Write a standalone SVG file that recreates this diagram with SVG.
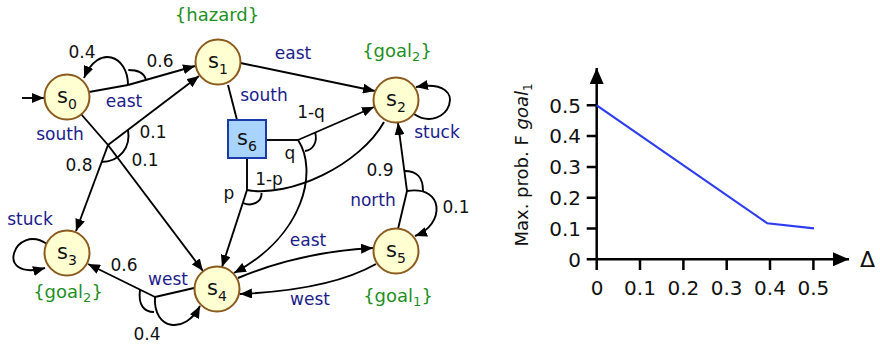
<svg xmlns="http://www.w3.org/2000/svg" width="880" height="347" viewBox="0 0 880 347">
<style>
text{font-family:"DejaVu Sans","Liberation Sans",sans-serif;fill:#111}
.n circle{fill:#ffffd2;stroke:#8b5a1e;stroke-width:2}
.sq{fill:#a8d4ff;stroke:#1a3aa5;stroke-width:2}
.nl{font-size:21px;text-anchor:middle}
.e{fill:none;stroke:#000;stroke-width:1.9}
.ar{marker-end:url(#ah)}
.lb{font-size:17px;text-anchor:middle}
.act{fill:#1c1c8c}
.ap{fill:#1f8f1f;font-size:18px;text-anchor:middle}
.ax{fill:none;stroke:#000;stroke-width:2.5}
.tk{font-size:20px}
</style>
<defs>
<marker id="ah" viewBox="0 0 12 10" refX="12" refY="5" markerWidth="12" markerHeight="10" markerUnits="userSpaceOnUse" orient="auto"><path d="M0,0 L12,5 L0,10 z" fill="#000"/></marker>
<marker id="cah" viewBox="0 0 16 14" refX="16" refY="7" markerWidth="16" markerHeight="14" markerUnits="userSpaceOnUse" orient="auto"><path d="M0,0 L16,7 L0,14 z" fill="#000"/></marker>
</defs>

<g id="connectors">
<path class="e ar" d="M22,98 L44,98"/>
<!-- s0 east -->
<path class="e" d="M89,92 L128,85"/>
<path class="e ar" d="M128,85 L195,66"/>
<path class="e ar" d="M128,85 C128,55 98,44 84,78"/>
<path class="e" d="M128.3,70 Q143,70 145.7,79"/>
<!-- s0 south -->
<path class="e" d="M81,114 L108,145"/>
<path class="e ar" d="M108,145 L199,76"/>
<path class="e ar" d="M108,145 L76,231"/>
<path class="e ar" d="M108,145 L203,271"/>
<path class="e" d="M128,130 C131,147 120,162 101,162"/>
<!-- s1 -->
<path class="e ar" d="M240.5,63 L375,91"/>
<path class="e" d="M228,85 L237,120"/>
<!-- s6 -->
<path class="e" d="M266,140 L298,140"/>
<path class="e ar" d="M298,140 L374,107"/>
<path class="e ar" d="M298,140 C318,170 305,235 234,273"/>
<path class="e" d="M315,132 C318,142 313,150 305,151"/>
<path class="e" d="M247,158 L247,190"/>
<path class="e ar" d="M247,190 L222,267"/>
<path class="e" d="M247,190 C290,198 360,165 384,122"/>
<path class="e" d="M261.5,193 C262,202 252,207 243,203"/>
<!-- s2 stuck -->
<path class="e ar" d="M414,114 C447,136 474,77 416,87"/>
<!-- s3 stuck -->
<path class="e ar" d="M47,244 C15,222 -8,282 45,268"/>
<!-- s5 north -->
<path class="e" d="M398,229 L407,191"/>
<path class="e ar" d="M407,191 L398,123"/>
<path class="e ar" d="M407,191 C445,185 445,225 415,236"/>
<path class="e" d="M404.5,171 C418,171 423,178 423,191"/>
<!-- s4 west -->
<path class="e" d="M194,288 L155,297"/>
<path class="e ar" d="M155,297 L88,264"/>
<path class="e ar" d="M155,297 C153,330 185,335 200,306"/>
<path class="e" d="M140,290 C138,305 144,312 154,312"/>
<!-- s4 east / s5 west -->
<path class="e ar" d="M238,278 Q300,252 373,248"/>
<path class="e ar" d="M376,264 Q330,290 240,294"/>
</g>

<g id="s0" class="n"><circle cx="67" cy="97" r="22.5"/><text class="nl" x="67" y="103">s<tspan font-size="14" dy="6">0</tspan></text></g>
<g id="s1" class="n"><circle cx="218" cy="62" r="22.5"/><text class="nl" x="218" y="68">s<tspan font-size="14" dy="6">1</tspan></text></g>
<g id="s2" class="n"><circle cx="396" cy="100" r="22.5"/><text class="nl" x="396" y="106">s<tspan font-size="14" dy="6">2</tspan></text></g>
<g id="s3" class="n"><circle cx="67" cy="253" r="22.5"/><text class="nl" x="67" y="259">s<tspan font-size="14" dy="6">3</tspan></text></g>
<g id="s4" class="n"><circle cx="217" cy="289" r="22.5"/><text class="nl" x="217" y="295">s<tspan font-size="14" dy="6">4</tspan></text></g>
<g id="s5" class="n"><circle cx="396" cy="251" r="22.5"/><text class="nl" x="396" y="257">s<tspan font-size="14" dy="6">5</tspan></text></g>
<g id="s6"><rect class="sq" x="228" y="120" width="38" height="38"/><text class="nl" x="247" y="145">s<tspan font-size="14" dy="6">6</tspan></text></g>

<g id="labels">
<text class="ap" x="217" y="21">{hazard}</text>
<text class="ap" x="397" y="57">{goal<tspan font-size="13" dy="4">2</tspan><tspan dy="-4">}</tspan></text>
<text class="ap" x="68" y="298">{goal<tspan font-size="13" dy="4">2</tspan><tspan dy="-4">}</tspan></text>
<text class="ap" x="398" y="302">{goal<tspan font-size="13" dy="4">1</tspan><tspan dy="-4">}</tspan></text>

<text class="lb" x="82" y="58">0.4</text>
<text class="lb" x="160" y="67">0.6</text>
<text class="lb act" x="124" y="107">east</text>
<text class="lb act" x="60" y="140">south</text>
<text class="lb" x="153" y="138">0.1</text>
<text class="lb" x="145" y="166">0.1</text>
<text class="lb" x="79" y="171">0.8</text>
<text class="lb act" x="293" y="59">east</text>
<text class="lb act" x="264" y="101">south</text>
<text class="lb" x="311" y="118">1-q</text>
<text class="lb" x="290" y="159">q</text>
<text class="lb" x="269" y="185">1-p</text>
<text class="lb" x="229" y="199">p</text>
<text class="lb act" x="437" y="138">stuck</text>
<text class="lb" x="380" y="176">0.9</text>
<text class="lb act" x="373" y="206">north</text>
<text class="lb" x="456" y="213">0.1</text>
<text class="lb act" x="308" y="246">east</text>
<text class="lb act" x="310" y="305">west</text>
<text class="lb act" x="168" y="285">west</text>
<text class="lb" x="124" y="271">0.6</text>
<text class="lb" x="147" y="340">0.4</text>
<text class="lb act" x="30" y="225">stuck</text>
</g>

<g id="chart">
<path class="ax" d="M596.7,270 L596.7,68" marker-end="url(#cah)"/>
<path class="ax" d="M586.7,259.3 L849,259.3" marker-end="url(#cah)"/>
<path class="ax" d="M586.7,228.5 H596.7 M586.7,197.7 H596.7 M586.7,166.9 H596.7 M586.7,136.1 H596.7 M586.7,105.3 H596.7 M640,259.3 V270 M683.4,259.3 V270 M726.7,259.3 V270 M770,259.3 V270 M813.4,259.3 V270"/>
<g class="tk" text-anchor="end">
<text x="581" y="266.6">0</text>
<text x="581" y="235.8">0.1</text>
<text x="581" y="205">0.2</text>
<text x="581" y="174.2">0.3</text>
<text x="581" y="143.4">0.4</text>
<text x="581" y="112.6">0.5</text>
</g>
<g class="tk" text-anchor="middle">
<text x="597" y="295">0</text>
<text x="640" y="295">0.1</text>
<text x="683.4" y="295">0.2</text>
<text x="726.7" y="295">0.3</text>
<text x="770" y="295">0.4</text>
<text x="813.4" y="295">0.5</text>
</g>
<polyline points="596.7,105.3 767.3,223.3 814,228.3" fill="none" stroke="#2e3cf0" stroke-width="2.2"/>
<text x="860" y="267" font-size="22">Δ</text>
<text transform="translate(528,165) rotate(-90)" font-size="18" text-anchor="middle">Max. prob. F <tspan font-style="italic">goal</tspan><tspan font-size="12" dy="4">1</tspan></text>
</g>
</svg>
